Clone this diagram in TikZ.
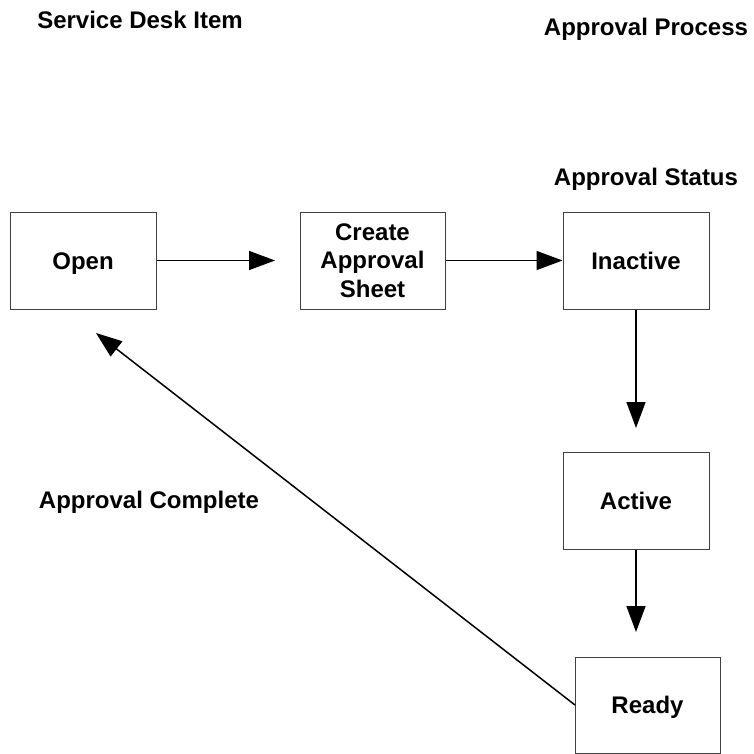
\documentclass[tikz,border=0pt]{standalone}
\usepackage{fontspec}
\setmainfont{Liberation Sans}
\usetikzlibrary{arrows.meta}
\begin{document}
\begin{tikzpicture}[x=1pt,y=-1pt,
  font=\fontsize{24}{28.5}\selectfont\bfseries,
  box/.style={draw=black!75,line width=1pt,minimum width=146pt,minimum height=97pt,align=center,inner sep=0pt},
  one/.style={text height=17pt,text depth=0pt},
  lbl/.style={inner sep=0pt,anchor=center,text height=17pt,text depth=0pt},
  arr/.style={line width=1.5pt,-{Triangle[length=26pt,width=19pt]}}]
\useasboundingbox (0,0) rectangle (753,754);
\node[box,one] (open) at (83,260.5) {Open};
\node[box,minimum width=145pt] (create) at (372.5,260.5) {Create\\Approval\\Sheet};
\node[box,one] (inactive) at (636,260.5) {Inactive};
\node[box,one] (active) at (636,500.5) {Active};
\node[box,one,minimum width=145pt,minimum height=96pt] (ready) at (647.5,705) {Ready};
\node[lbl] (sdi) at (140,20) {Service Desk Item};
\node[lbl] (ap) at (646,27) {Approval Process};
\node[lbl] (as) at (646,177) {Approval Status};
\node[lbl] (ac) at (149,500) {Approval Complete};
\coordinate (t1) at (275,260.5);
\coordinate (t2) at (636,428);
\coordinate (t3) at (636,632);
\coordinate (t4) at (96,333);
\coordinate (r0) at (575,705);
\draw[arr] (open.east) -- (t1);
\draw[arr] (create.east) -- (inactive.west);
\draw[arr] (inactive.south) -- (t2);
\draw[arr] (active.south) -- (t3);
\draw[arr] (r0) -- (t4);
\end{tikzpicture}
\end{document}
